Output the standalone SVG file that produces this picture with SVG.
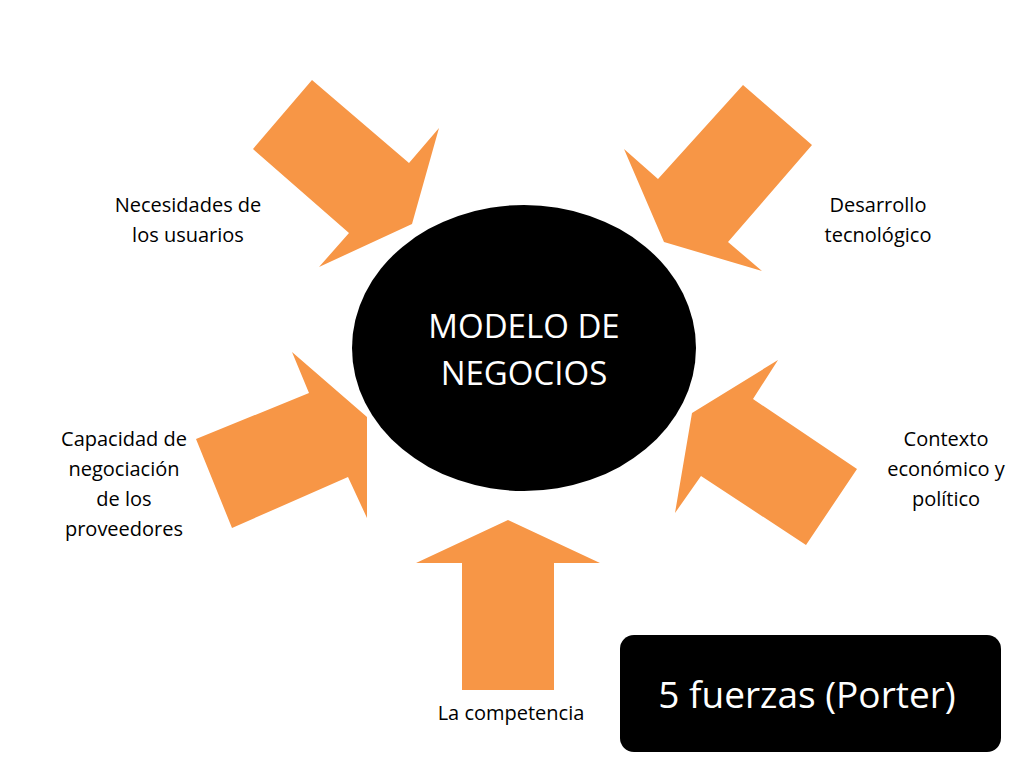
<svg xmlns="http://www.w3.org/2000/svg" width="1024" height="768" viewBox="0 0 1024 768">
<style>
.arr{fill:#F79646}
.lbl{font-family:"Open Sans","Liberation Sans",sans-serif;font-size:20px;fill:#000;text-anchor:middle}
.w{font-family:"Open Sans","Liberation Sans",sans-serif;fill:#fff;text-anchor:middle}
</style>
<rect width="1024" height="768" fill="#fff"/>
<g id="connectors">
<polygon class="arr" points="312,80 409,163 439,128 412,224 319,267 349,233 253,149"/>
<polygon class="arr" points="743,85 812,145 728,242 762,271 664,242 624,149 658,179"/>
<polygon class="arr" points="196,439 309,393 292,352 367,417 367,518 348,477 232,528"/>
<polygon class="arr" points="857,469 806,545 701,476 675,513 692,413 778,360 753,399"/>
<polygon class="arr" points="508,520 600,563 554,563 554,690 462,690 462,563 416,563"/>
</g>
<g id="center">
<ellipse cx="524" cy="348" rx="172" ry="143" fill="#000"/>
<text class="w" font-size="33" x="524" y="338">MODELO DE</text>
<text class="w" font-size="33" x="524" y="385">NEGOCIOS</text>
</g>
<g id="n1"><text class="lbl" x="188" y="212">Necesidades de</text><text class="lbl" x="188" y="242">los usuarios</text></g>
<g id="n2"><text class="lbl" x="878" y="212">Desarrollo</text><text class="lbl" x="878" y="242">tecnológico</text></g>
<g id="n3"><text class="lbl" x="124" y="446">Capacidad de</text><text class="lbl" x="124" y="476">negociación</text><text class="lbl" x="124" y="506">de los</text><text class="lbl" x="124" y="536">proveedores</text></g>
<g id="n4"><text class="lbl" x="946" y="446">Contexto</text><text class="lbl" x="946" y="476">económico y</text><text class="lbl" x="946" y="506">político</text></g>
<g id="n5"><text class="lbl" x="511" y="720">La competencia</text></g>
<g id="title">
<rect x="620" y="635" width="381" height="117" rx="14" fill="#000"/>
<text class="w" font-size="37" x="807" y="708">5 fuerzas (Porter)</text>
</g>
</svg>
